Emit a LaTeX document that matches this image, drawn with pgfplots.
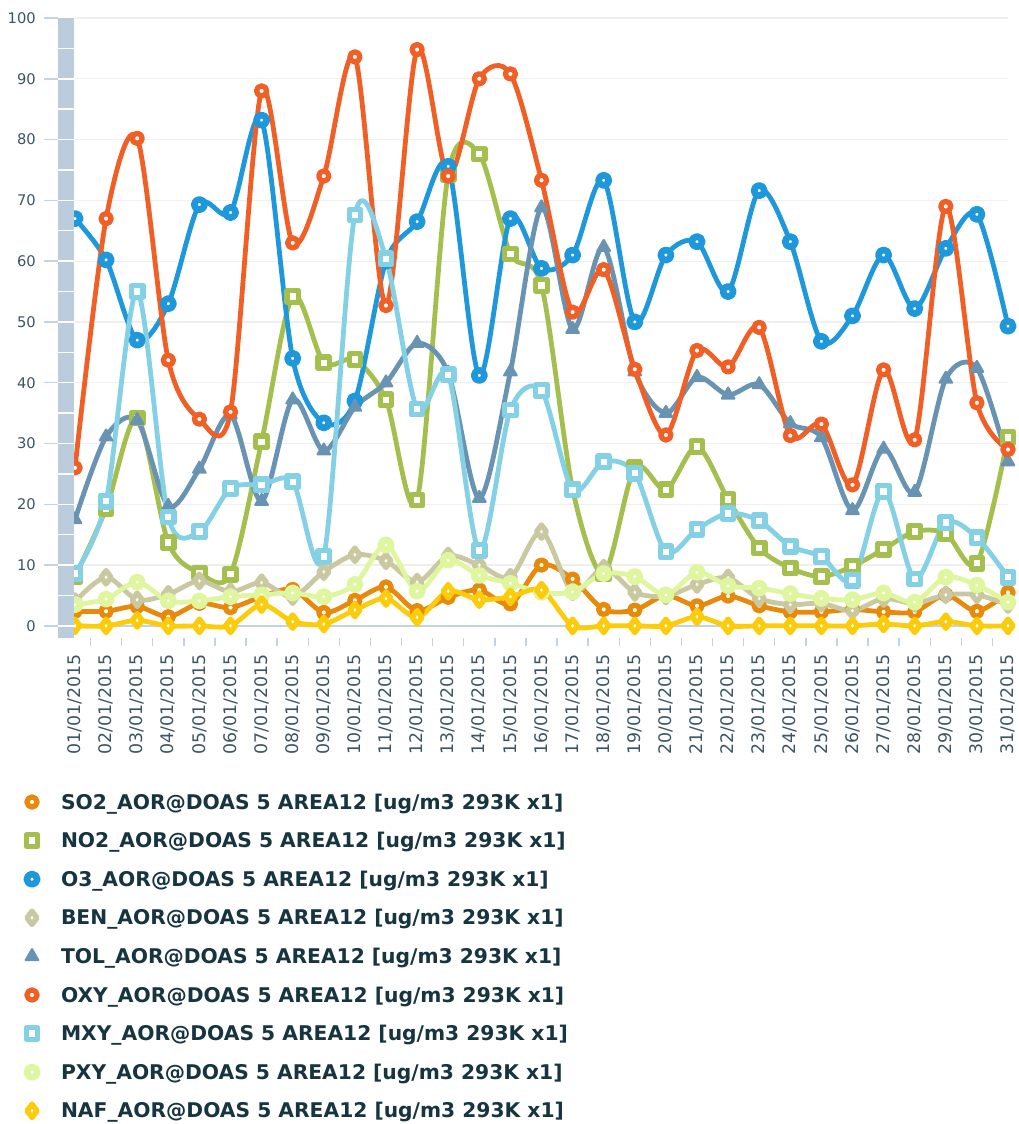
\documentclass[border=0pt]{standalone}
\usepackage{fontspec}
\setmainfont{DejaVu Sans}
\usepackage{pgfplots}
\usepackage{pgfplotstable}
\pgfplotsset{compat=1.18}
\usetikzlibrary{calc}
\definecolor{cSO}{HTML}{E78A0C}
\definecolor{cNO}{HTML}{A5BF4F}
\definecolor{cOT}{HTML}{1E98DB}
\definecolor{cBE}{HTML}{C9C8A0}
\definecolor{cTO}{HTML}{6893B2}
\definecolor{cOX}{HTML}{F06026}
\definecolor{cMX}{HTML}{84D0E5}
\definecolor{cPX}{HTML}{DFF59E}
\definecolor{cNA}{HTML}{FCCB0A}
\definecolor{bandc}{HTML}{BBCCDD}
\definecolor{gridc}{HTML}{EFEFEF}
\definecolor{axc}{HTML}{C4D3E2}
\definecolor{tickc}{HTML}{3A5563}
\definecolor{legc}{HTML}{163540}

\pgfplotstableread{
d so2 no2 o3 ben tol oxy mxy pxy naf
1 2.4 8.1 67 4.0 17.5 26 8.6 3.5 0
2 2.4 19.3 60.2 8.0 31.1 67 20.5 4.4 0
3 3.2 34.2 47 4.3 33.8 80.2 55 7.2 0.9
4 1.5 13.7 53 5.2 19.7 43.7 17.9 4.1 0
5 3.7 8.7 69.3 7.4 25.8 34 15.5 4.1 0
6 3.0 8.5 68 5.6 34.7 35.2 22.6 4.8 0
7 4.8 30.3 83.2 7.1 20.5 88 23.2 5.1 3.5
8 6.0 54.2 44 4.8 37.2 63 23.7 5.4 0.7
9 2.2 43.3 33.4 8.9 28.8 74 11.4 4.8 0.3
10 4.2 43.8 37 11.7 36 93.6 67.6 6.8 2.6
11 6.4 37.2 60 10.7 40 52.7 60.4 13.3 4.5
12 2.5 20.7 66.5 7.2 46.5 94.8 35.7 5.7 1.4
13 4.7 74.3 75.6 11.5 41.6 74 41.3 10.8 5.7
14 5.9 77.6 41.2 10 21 90 12.4 8.3 4.3
15 3.6 61.2 67 8 41.8 90.8 35.5 7.0 4.8
16 10 56 58.8 15.5 68.8 73.3 38.7 5.5 5.9
17 7.7 22.5 61 5.6 48.8 51.6 22.4 5.6 0
18 2.7 8.6 73.3 9.5 62.3 58.6 27 8.6 0
19 2.6 26 50 5.5 41.8 42.2 25.1 8.1 0
20 5 22.4 61 4.9 35 31.4 12.2 5.1 0
21 3.3 29.5 63.2 6.8 40.9 45.3 15.9 8.8 1.5
22 4.9 20.8 55 7.9 38 42.6 18.5 6.6 0
23 3.3 12.8 71.6 4.5 39.7 49.1 17.3 6.2 0
24 2.3 9.5 63.2 3.5 33.3 31.3 13.1 5.3 0
25 2.3 8.1 46.8 3.7 31 33.2 11.4 4.5 0
26 2.7 9.8 51 2.5 19 23.2 7.5 4.3 0
27 2.3 12.6 61 4.5 29.1 42.1 22.1 5.4 0.3
28 2.3 15.5 52.2 3.7 22 30.6 7.7 3.9 0
29 5.1 15.2 62.1 5.1 40.6 69 17 8.0 0.7
30 2.4 10.3 67.7 5.1 42.4 36.7 14.5 6.7 0
31 5.5 31 49.3 3.5 27 29 8 3.9 0
}\data

\pgfplotsset{
  ser/.style={smooth, tension=0.5, line width=3.6pt, line join=round, line cap=round},
  ring/.style={mark=*, mark size=3.8pt, mark options={solid, fill=white, line width=4pt}},
  blob/.style={mark=*, mark size=3.9pt, mark options={solid, fill=white, line width=5pt}},
  sq/.style={mark=square*, mark size=4.3pt, mark options={solid, fill=white, line width=3.9pt, line join=round}},
  dia/.style={mark=diamond*, mark size=5pt, mark options={solid, fill=white, line width=4pt, line join=round}},
  tri/.style={mark=triangle*, mark size=5.5pt, mark options={solid, line width=1.5pt, line join=round}},
}

\begin{document}
\begin{tikzpicture}
\path[use as bounding box] (-56.25pt,-364.5pt) rectangle (708pt,478.5pt);
\begin{axis}[name=ax, at={(0,0)}, anchor=south west, scale only axis,
  width=699.75pt, height=465pt,
  xmin=1, xmax=31, ymin=-2, ymax=100,
  axis line style={draw=none},
  tick pos=left,
  ytick={0,10,...,100}, ytick style={draw=none},
  yticklabel style={font=\fontsize{11}{13}\selectfont, text=tickc, inner sep=0pt, xshift=-23.25pt},
  /pgf/number format/assume math mode=true,
  ymajorgrids, grid style={color=gridc, line width=0.9pt},
  xtick={1.5,2.5,...,30.5}, xticklabels={},
  tick align=outside, major tick length=6pt,
  xtick style={color=axc, line width=1.1pt},
  xticklabel style={font=\fontsize{13}{15}\selectfont, text=tickc, inner sep=0pt, anchor=east, yshift=-12pt, rotate=90},
  extra x ticks={1,2,...,31},
  extra x tick labels={01/01/2015,02/01/2015,03/01/2015,04/01/2015,05/01/2015,06/01/2015,07/01/2015,08/01/2015,09/01/2015,10/01/2015,11/01/2015,12/01/2015,13/01/2015,14/01/2015,15/01/2015,16/01/2015,17/01/2015,18/01/2015,19/01/2015,20/01/2015,21/01/2015,22/01/2015,23/01/2015,24/01/2015,25/01/2015,26/01/2015,27/01/2015,28/01/2015,29/01/2015,30/01/2015,31/01/2015},
  extra x tick style={major tick length=0pt},
  extra y ticks={0}, extra y tick labels={},
  extra y tick style={grid=major, grid style={color=axc, line width=1.2pt}},
  clip=false,
  legend cell align=left,
  legend image code/.code={\draw[#1, only marks] plot coordinates {(0pt,0pt)};},
  legend style={at={(0,0)}, anchor=north west, xshift=-37pt, yshift=-116.25pt,
    draw=none, fill=none, inner sep=0pt, outer sep=0pt,
    row sep=15.45pt, column sep=17pt,
    font=\fontsize{15.2}{18}\selectfont\bfseries, text=legc,
    nodes={inner sep=0pt, text height=12pt, text depth=1.5pt}},
]
\addplot[ser, ring, color=cSO] table[x=d, y=so2] {\data};
\addlegendentry{SO2\_AOR@DOAS 5 AREA12 [ug/m3 293K x1]}
\addplot[ser, sq, color=cNO] table[x=d, y=no2] {\data};
\addlegendentry{NO2\_AOR@DOAS 5 AREA12 [ug/m3 293K x1]}
\addplot[ser, blob, color=cOT] table[x=d, y=o3] {\data};
\addlegendentry{O3\_AOR@DOAS 5 AREA12 [ug/m3 293K x1]}
\addplot[ser, dia, color=cBE] table[x=d, y=ben] {\data};
\addlegendentry{BEN\_AOR@DOAS 5 AREA12 [ug/m3 293K x1]}
\addplot[ser, tri, color=cTO] table[x=d, y=tol] {\data};
\addlegendentry{TOL\_AOR@DOAS 5 AREA12 [ug/m3 293K x1]}
\addplot[ser, ring, color=cOX] table[x=d, y=oxy] {\data};
\addlegendentry{OXY\_AOR@DOAS 5 AREA12 [ug/m3 293K x1]}
\addplot[ser, sq, color=cMX] table[x=d, y=mxy] {\data};
\addlegendentry{MXY\_AOR@DOAS 5 AREA12 [ug/m3 293K x1]}
\addplot[ser, blob, color=cPX] table[x=d, y=pxy] {\data};
\addlegendentry{PXY\_AOR@DOAS 5 AREA12 [ug/m3 293K x1]}
\addplot[ser, dia, color=cNA] table[x=d, y=naf] {\data};
\addlegendentry{NAF\_AOR@DOAS 5 AREA12 [ug/m3 293K x1]}
\end{axis}
% left band
\fill[bandc] ([xshift=-12.75pt]ax.south west) rectangle ([xshift=-0.75pt]ax.north west);
\foreach \v in {0,5,...,95} {
  \draw[white, line width=1.1pt] ($([xshift=-12.75pt]ax.south west)!{(\v+2)/102}!([xshift=-12.75pt]ax.north west)$) -- ++(12pt,0);
}
\foreach \v in {0,10,...,100} {
  \draw[axc, line width=1.1pt] ($([xshift=-23.25pt]ax.south west)!{(\v+2)/102}!([xshift=-23.25pt]ax.north west)$) -- ++(10.5pt,0);
}
\end{tikzpicture}
\end{document}
